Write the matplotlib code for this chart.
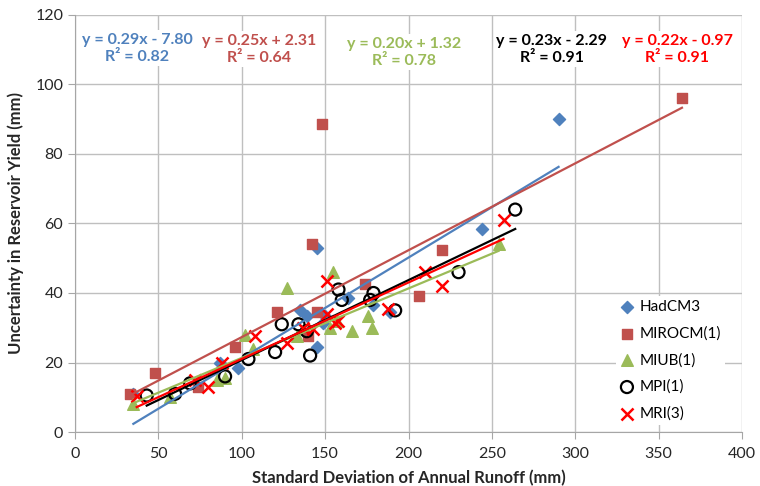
import matplotlib
matplotlib.use('Agg')
import matplotlib.pyplot as plt
import numpy as np

plt.rcParams['font.family'] = ['Lato', 'DejaVu Sans']

# data
had_x = [35, 87, 98, 135, 139, 145, 145, 149, 150, 164, 179, 189, 244, 290]
had_y = [11, 20, 18.5, 35, 33.5, 53, 24.5, 31.5, 33.5, 38.5, 36.5, 34.5, 58.5, 90]

miroc_x = [33, 48, 74, 96, 121, 140, 142, 145, 148, 174, 206, 220, 364]
miroc_y = [11, 17, 13, 24.5, 34.5, 27.5, 54, 34.5, 88.5, 42.5, 39, 52.5, 96]

miub_x = [35, 57, 85, 90, 102, 107, 127, 133, 153, 155, 157, 166, 176, 178, 254]
miub_y = [8, 10, 15, 15.5, 28, 24, 41.5, 27.5, 30, 46, 32, 29, 33.5, 30, 54]

mpi_x = [43, 60, 69, 90, 104, 120, 124, 134, 139, 141, 158, 160, 177, 179, 192, 230, 264]
mpi_y = [10.5, 11, 14, 16, 21, 23, 31, 31, 29, 22, 41, 38, 38, 40, 35, 46, 64]

mri_x = [37, 72, 80, 88, 108, 127, 137, 143, 151, 151, 156, 158, 188, 210, 220, 257]
mri_y = [10.5, 15, 13, 20, 27.5, 25.5, 30, 29.5, 43.5, 34, 31.5, 32, 35.5, 46, 42, 61]

# trendline coefficients as printed on the chart
slopes = [0.29, 0.25, 0.20, 0.23, 0.22]
intercepts = [-7.80, 2.31, 1.32, -2.29, -0.97]
r2 = [0.82, 0.64, 0.78, 0.91, 0.91]

names = ['HadCM3', 'MIROCM(1)', 'MIUB(1)', 'MPI(1)', 'MRI(3)']
colors = ['#4F81BD', '#C0504D', '#9BBB59', 'black', '#FF0000']
xs = [had_x, miroc_x, miub_x, mpi_x, mri_x]
ys = [had_y, miroc_y, miub_y, mpi_y, mri_y]

fig = plt.figure(figsize=(7.6, 4.86), dpi=100)
ax = fig.add_axes([75 / 760, 1 - 432 / 486, 667 / 760, 417 / 486])

ax.scatter(had_x, had_y, marker='D', s=38, color=colors[0], label=names[0], zorder=3)
ax.scatter(miroc_x, miroc_y, marker='s', s=42, color=colors[1], label=names[1], zorder=3)
ax.scatter(miub_x, miub_y, marker='^', s=70, color=colors[2], label=names[2], zorder=3)
ax.scatter(mpi_x, mpi_y, marker='o', s=75, facecolors='none', edgecolors='black',
           linewidths=1.6, label=names[3], zorder=3)
ax.scatter(mri_x, mri_y, marker='x', s=75, color=colors[4], linewidths=1.8,
           label=names[4], zorder=3)

# trendlines
for x, m, b, c in zip(xs, slopes, intercepts, colors):
    xl = np.array([min(x), max(x)])
    ax.plot(xl, m * xl + b, color=c, lw=1.6, zorder=4)

ax.set_xlim(0, 400)
ax.set_ylim(0, 120)
ax.set_xticks(np.arange(0, 401, 50))
ax.set_yticks(np.arange(0, 121, 20))
ax.grid(True, color='#BFBFBF', lw=1)
ax.set_axisbelow(True)
for s in ['top', 'right']:
    ax.spines[s].set_visible(False)
for s in ['left', 'bottom']:
    ax.spines[s].set_color('#A6A6A6')
ax.tick_params(colors='#A6A6A6', labelcolor='#262626', labelsize=11.5, length=5)
ax.tick_params(axis='x', pad=6)

ax.set_xlabel('Standard Deviation of Annual Runoff (mm)', fontsize=12, fontweight='bold',
              color='#262626', labelpad=6)
ax.set_ylabel('Uncertainty in Reservoir Yield (mm)', fontsize=12, fontweight='bold',
              color='#262626', labelpad=8)

# equation labels
text_x = [137, 259, 404, 552, 677]
text_y = [33, 34, 37, 34, 34]
for tx, ty, m, b, r, c in zip(text_x, text_y, slopes, intercepts, r2, colors):
    sign = '-' if b < 0 else '+'
    label = f'y = {m:.2f}x {sign} {abs(b):.2f}\nR² = {r:.2f}'
    fig.text(tx / 760, 1 - ty / 486, label, ha='center', va='top', color=c,
             fontsize=11.5, fontweight='bold', linespacing=1.25,
             bbox=dict(facecolor='white', edgecolor='none', pad=2), zorder=5)

leg = ax.legend(loc='upper left', bbox_to_anchor=(0.8, 0.345), frameon=True,
                facecolor='white', edgecolor='none', framealpha=1, fontsize=11,
                handlelength=0.8, handletextpad=0.4, labelspacing=0.8,
                borderpad=0.3, scatterpoints=1)
leg.set_zorder(6)

fig.savefig('out.png', dpi=100)
